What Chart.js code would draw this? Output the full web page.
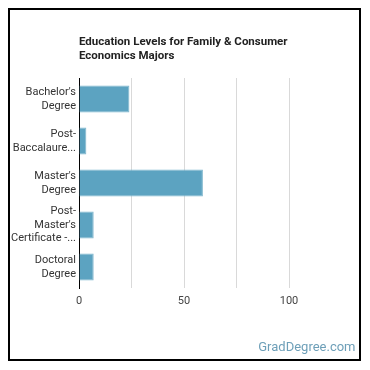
<!DOCTYPE html>
<html>
<head>
<meta charset="utf-8">
<script src="https://cdn.jsdelivr.net/npm/chart.js@4"></script>
<style>
  html, body { margin: 0; padding: 0; background: #fff; }
  #wrap { position: relative; width: 370px; height: 370px; }
  #grafico { position: absolute; left: 0; top: 0; }
  #moldura {
    position: absolute; left: 8px; top: 8px; width: 349px; height: 349px;
    border: 2px solid #000; pointer-events: none;
  }
</style>
</head>
<body>
<div id="wrap">
  <canvas id="grafico" width="370" height="370"></canvas>
  <div id="moldura"></div>
</div>
<script>
// dados do grafico
const categorias = [
    ["Bachelor's", "Degree"],
    ["Post-", "Baccalaure..."],
    ["Master's", "Degree"],
    ["Post-", "Master's", "Certificate -..."],
    ["Doctoral", "Degree"]
];
const valores = [24, 3.5, 59, 7, 7];
const rotulosX = [0, 50, 100];
const tituloLinhas = ["Education Levels for Family & Consumer", "Economics Majors"];
const marcaDagua = "GradDegree.com";

const fonte = 'Roboto, Arial, sans-serif';

// titulo alinhado com a area do grafico + marca d'agua
const pluginTextos = {
    id: 'textos',
    afterDraw(chart) {
        const ctx = chart.ctx;
        const area = chart.chartArea;
        ctx.save();
        ctx.fillStyle = '#222';
        ctx.font = 'bold 11.5px ' + fonte;
        ctx.textAlign = 'left';
        ctx.textBaseline = 'alphabetic';
        tituloLinhas.forEach((linha, i) => {
            ctx.fillText(linha, area.left, 45 + i * 13.5);
        });
        ctx.fillStyle = '#6d9fb8';
        ctx.font = '13px ' + fonte;
        ctx.textAlign = 'right';
        ctx.fillText(marcaDagua, 355.5, 350.5);
        ctx.restore();
    }
};

new Chart(document.getElementById('grafico').getContext('2d'), {
    type: 'bar',
    data: {
        labels: categorias,
        datasets: [{
            data: valores,
            backgroundColor: '#5ca3c1',
            borderColor: '#7db6cd',
            borderWidth: 1,
            categoryPercentage: 1,
            barPercentage: 0.64
        }]
    },
    options: {
        indexAxis: 'y',
        responsive: false,
        animation: false,
        events: [],
        layout: { padding: { top: 78, right: 28.5, left: 0, bottom: 0 } },
        plugins: {
            legend: { display: false },
            tooltip: { enabled: false }
        },
        scales: {
            x: {
                min: 0,
                max: 125,
                afterFit(scale) { scale.height = 82; },
                afterBuildTicks(scale) {
                    scale.ticks = [0, 25, 50, 75, 100, 125].map(v => ({ value: v }));
                },
                ticks: {
                    autoSkip: false,
                    maxRotation: 0,
                    padding: 7,
                    color: '#444',
                    font: { size: 11, family: fonte },
                    callback: (v) => rotulosX.includes(v) ? String(v) : ''
                },
                grid: {
                    drawTicks: false,
                    color: (c) => (c.tick && c.tick.value === 125) ? 'rgba(0,0,0,0)' : '#d9d9d9',
                    lineWidth: 1
                },
                border: { display: false }
            },
            y: {
                afterFit(scale) { scale.width = 79; },
                ticks: {
                    autoSkip: false,
                    padding: 3,
                    color: '#333',
                    font: { size: 11, family: fonte, lineHeight: 1.23 }
                },
                grid: { display: false, drawTicks: false },
                border: { display: true, color: '#000', width: 1 }
            }
        }
    },
    plugins: [pluginTextos]
});
</script>
</body>
</html>
